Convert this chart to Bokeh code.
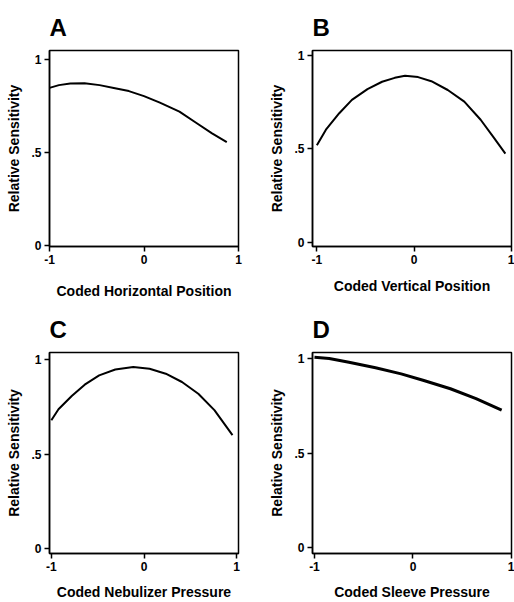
from bokeh.plotting import figure
from bokeh.layouts import gridplot
from bokeh.models import FixedTicker, Range1d
from bokeh.embed import file_html
from bokeh.resources import INLINE

# ---- data ----
a_x = [-1.0, -0.90, -0.78, -0.63, -0.47, -0.32, -0.16, 0.0, 0.168, 0.375, 0.547, 0.72, 0.876]
a_y = [0.847, 0.862, 0.871, 0.872, 0.862, 0.847, 0.830, 0.803, 0.768, 0.720, 0.661, 0.603, 0.556]

b_x = [-1.0, -0.907, -0.77, -0.64, -0.48, -0.33, -0.20, -0.094, 0.04, 0.176, 0.345, 0.515, 0.683, 0.82, 0.937]
b_y = [0.52, 0.603, 0.691, 0.762, 0.82, 0.859, 0.88, 0.891, 0.884, 0.862, 0.815, 0.753, 0.656, 0.559, 0.475]

c_x = [-1.0, -0.923, -0.78, -0.64, -0.484, -0.31, -0.116, 0.06, 0.235, 0.41, 0.586, 0.76, 0.955]
c_y = [0.679, 0.737, 0.807, 0.867, 0.916, 0.947, 0.96, 0.951, 0.925, 0.881, 0.819, 0.732, 0.60]

d_x = [-1.0, -0.85, -0.65, -0.38, -0.12, 0.11, 0.38, 0.64, 0.90]
d_y = [1.007, 1.0, 0.98, 0.951, 0.919, 0.884, 0.84, 0.788, 0.727]

panel_titles = ["A", "B", "C", "D"]
x_titles = ["Coded Horizontal Position", "Coded Vertical Position",
            "Coded Nebulizer Pressure", "Coded Sleeve Pressure"]
y_title = "Relative Sensitivity"
x_ticks = [-1, 0, 1]
x_tick_labels = ["-1", "0", "1"]
y_ticks = [0, 0.5, 1]
y_tick_labels = ["0", ".5", "1"]

FONT = "Liberation Sans"

# layout specs: (x_range, y_range, borders l, r, t, b, line width, x label standoff)
specs = [
    ((-1.0, 1.0), (-0.005, 1.048), (49, 15, 49, 54), 2.0, 16),
    ((-1.045, 1.0), (-0.021, 1.026), (55, 1, 50, 53), 2.0, 11),
    ((-1.02, 1.02), (-0.026, 1.037), (44, 19, 51, 47), 2.0, 10),
    ((-1.02, 1.0), (-0.032, 1.032), (51, 3, 51, 47), 3.0, 10),
]
data = [(a_x, a_y), (b_x, b_y), (c_x, c_y), (d_x, d_y)]


def make_panel(i):
    xr, yr, (bl, br, bt, bb), lw, xstand = specs[i]
    p = figure(width=257, height=301, output_backend="svg", toolbar_location=None,
               x_range=Range1d(*xr), y_range=Range1d(*yr),
               min_border_left=bl, min_border_right=br,
               min_border_top=bt, min_border_bottom=bb,
               title=panel_titles[i])
    p.title.text_font = FONT
    p.title.text_font_size = "24px"
    p.title.text_font_style = "bold"
    p.title.text_color = "black"
    p.title.align = "left"
    p.title.offset = 0
    p.title.standoff = 19
    p.xgrid.visible = False
    p.ygrid.visible = False
    p.outline_line_color = "black"
    p.outline_line_width = 1.5
    p.background_fill_color = "white"
    p.border_fill_color = "white"

    xs, ys = data[i]
    p.line(xs, ys, line_color="black", line_width=lw, line_join="round")

    p.xaxis.ticker = FixedTicker(ticks=x_ticks)
    p.xaxis.major_label_overrides = dict(zip(x_ticks, x_tick_labels))
    p.yaxis.ticker = FixedTicker(ticks=y_ticks)
    p.yaxis.major_label_overrides = dict(zip(y_ticks, y_tick_labels))
    p.xaxis.axis_label = x_titles[i]
    p.yaxis.axis_label = y_title
    for ax in (p.xaxis, p.yaxis):
        ax.axis_line_color = "black"
        ax.axis_line_width = 1.5
        ax.major_tick_line_color = "black"
        ax.major_tick_line_width = 1.5
        ax.major_tick_out = 5
        ax.major_tick_in = 0
        ax.minor_tick_line_color = None
        ax.major_label_text_font = FONT
        ax.major_label_text_font_style = "bold"
        ax.major_label_text_font_size = "12px"
        ax.major_label_text_color = "black"
        ax.major_label_standoff = 3
        ax.axis_label_text_font = FONT
        ax.axis_label_text_font_style = "bold"
        ax.axis_label_text_font_size = "14px"
        ax.axis_label_text_color = "black"
    p.xaxis.axis_label_standoff = xstand
    p.yaxis.axis_label_standoff = 6
    p.yaxis.major_label_orientation = "horizontal"
    return p


panels = [make_panel(i) for i in range(4)]
grid = gridplot([[panels[0], panels[1]], [panels[2], panels[3]]],
                toolbar_location=None)

open("out.html", "w").write(file_html(grid, INLINE))
